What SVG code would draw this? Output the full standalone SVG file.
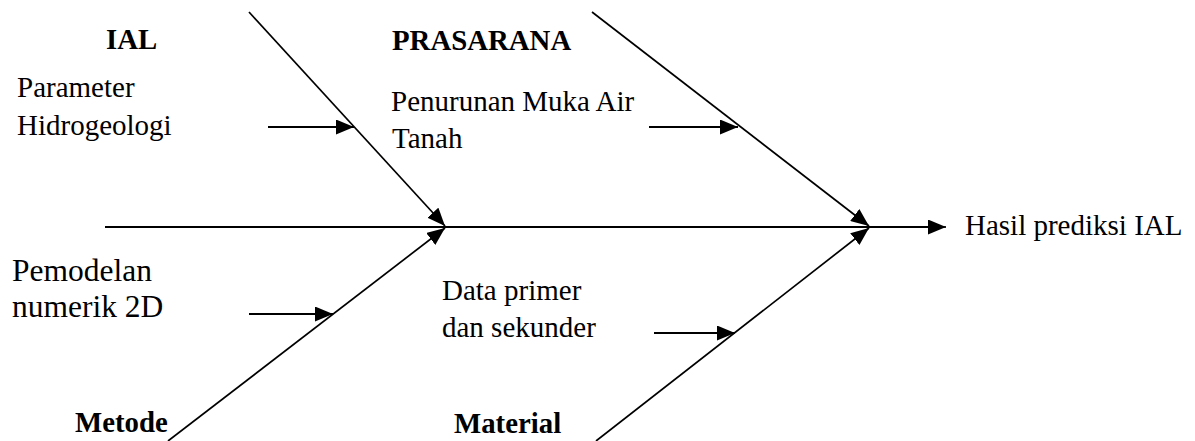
<svg xmlns="http://www.w3.org/2000/svg" width="1195" height="441" viewBox="0 0 1195 441">
  <style>
    .cat { font-weight: bold; font-size: 28.8px; }
    .lbl { font-size: 29px; }
    .big { font-size: 31.5px; }
    .bone { stroke: #000; stroke-width: 1.7; fill: none; marker-end: url(#head); }
    .spine { stroke: #000; stroke-width: 2.2; fill: none; }
    .cause { stroke: #000; stroke-width: 2; fill: none; marker-end: url(#head); }
  </style>
  <defs>
    <marker id="head" markerUnits="userSpaceOnUse" markerWidth="18" markerHeight="15" refX="18" refY="7.5" orient="auto">
      <path d="M0,0 L18,7.5 L0,15 z" fill="#000"/>
    </marker>
  </defs>
  <rect width="1195" height="441" fill="#fff"/>

  <!-- connectors: spine, four main bones, sub-cause arrows -->
  <g id="connectors">
    <line class="spine" x1="105" y1="227" x2="930" y2="227"/>
    <line class="bone" x1="928" y1="227" x2="946" y2="227"/>
    <line class="bone" x1="249" y1="12" x2="445" y2="226"/>
    <line class="bone" x1="592" y1="12" x2="869" y2="226"/>
    <line class="bone" x1="168" y1="441" x2="445" y2="228"/>
    <line class="bone" x1="596" y1="441" x2="869" y2="228"/>
    <line class="cause" x1="268" y1="127" x2="354" y2="127"/>
    <line class="cause" x1="649" y1="127" x2="738" y2="127"/>
    <line class="cause" x1="249" y1="314" x2="333" y2="314"/>
    <line class="cause" x1="654" y1="333" x2="735" y2="333"/>
  </g>

  <g font-family="Liberation Serif, serif" fill="#000">
    <!-- category headings -->
    <g id="cat-ial"><text class="cat" x="106" y="49">IAL</text></g>
    <g id="cat-prasarana"><text class="cat" x="392" y="50">PRASARANA</text></g>
    <g id="cat-metode"><text class="cat" x="75" y="432">Metode</text></g>
    <g id="cat-material"><text class="cat" x="454" y="433">Material</text></g>

    <!-- causes -->
    <g id="cause-hidrogeologi">
      <text class="lbl" x="17" y="97">Parameter</text>
      <text class="lbl" x="17" y="135">Hidrogeologi</text>
    </g>
    <g id="cause-mat">
      <text class="lbl" x="391" y="111">Penurunan Muka Air</text>
      <text class="lbl" x="392" y="148">Tanah</text>
    </g>
    <g id="cause-pemodelan">
      <text class="lbl big" x="12" y="281">Pemodelan</text>
      <text class="lbl big" x="12" y="317">numerik 2D</text>
    </g>
    <g id="cause-data">
      <text class="lbl" x="442" y="300">Data primer</text>
      <text class="lbl" x="442" y="337">dan sekunder</text>
    </g>

    <!-- effect -->
    <g id="effect"><text class="lbl" x="965" y="235">Hasil prediksi IAL</text></g>
  </g>
</svg>
